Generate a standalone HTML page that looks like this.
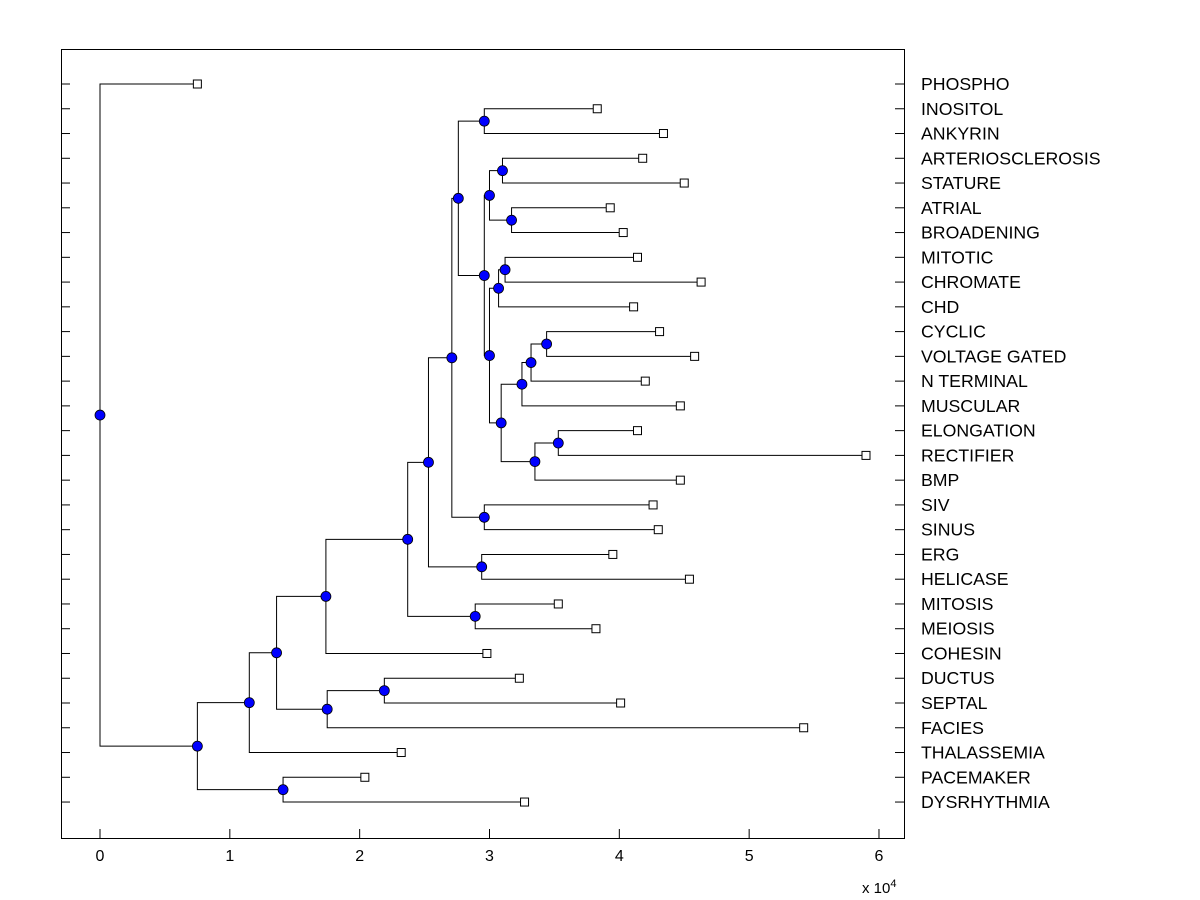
<!DOCTYPE html>
<html><head><meta charset="utf-8"><style>
body{margin:0;background:#fff;}
svg{display:block;font-family:"Liberation Sans",Arial,sans-serif;}
</style></head><body>
<svg id="chart" width="1200" height="900" xmlns="http://www.w3.org/2000/svg">
<rect x="0" y="0" width="1200" height="900" fill="#fff"/>
<g id="ticks"></g>
<g id="tree"></g>
<g id="labels"></g>
<rect x="61.5" y="49.5" width="843" height="789" fill="none" stroke="#000" stroke-width="1"/>
<text x="862" y="893" font-size="15">x 10<tspan dy="-6" font-size="11">4</tspan></text>
</svg>
<script>
const leafNames = ["PHOSPHO","INOSITOL","ANKYRIN","ARTERIOSCLEROSIS","STATURE","ATRIAL","BROADENING","MITOTIC","CHROMATE","CHD","CYCLIC","VOLTAGE GATED","N TERMINAL","MUSCULAR","ELONGATION","RECTIFIER","BMP","SIV","SINUS","ERG","HELICASE","MITOSIS","MEIOSIS","COHESIN","DUCTUS","SEPTAL","FACIES","THALASSEMIA","PACEMAKER","DYSRHYTHMIA"];
const leafValues = [0.75,3.83,4.34,4.18,4.50,3.93,4.03,4.14,4.63,4.11,4.31,4.58,4.20,4.47,4.14,5.90,4.47,4.26,4.30,3.95,4.54,3.53,3.82,2.98,3.23,4.01,5.42,2.32,2.04,3.27];
const mergeLeft  = [1,3,5,31,7,34,10,36,37,14,39,38,35,33,30,17,44,19,46,21,48,50,24,52,51,54,28,55,0];
const mergeRight = [2,4,6,32,8,9,11,12,13,15,16,40,41,42,43,18,45,20,47,22,49,23,25,26,53,27,29,56,57];
const mergeHeight= [2.96,3.10,3.17,3.00,3.12,3.07,3.44,3.32,3.25,3.53,3.35,3.09,3.00,2.96,2.76,2.96,2.71,2.94,2.53,2.89,2.37,1.74,2.19,1.75,1.36,1.15,1.41,0.75,0];
const xTicks = [0,1,2,3,4,5,6];

const NS="http://www.w3.org/2000/svg";
const xs = v => 100 + v*129.83;
const ys = i => 84 + i*24.76;
function mk(tag, attrs, parent){const e=document.createElementNS(NS,tag);for(const k in attrs)e.setAttribute(k,attrs[k]);parent.appendChild(e);return e;}
const ticks=document.getElementById('ticks'), tree=document.getElementById('tree'), labels=document.getElementById('labels');

xTicks.forEach(t=>{
  const l=mk('line',{x1:xs(t),x2:xs(t),y1:838,y2:829,stroke:'#000'},ticks);
  
  
  const tx=mk('text',{x:xs(t),y:861,'font-size':16,'text-anchor':'middle'},ticks);
  tx.textContent=t;
  
  
});
leafNames.forEach((n,i)=>{
  const y=ys(i);
  const a=mk('line',{x1:61,x2:70,y1:y,y2:y,stroke:'#000'},ticks);
  
  
  const b=mk('line',{x1:895,x2:904,y1:y,y2:y,stroke:'#000'},ticks);
  
  
  const t=mk('text',{x:921,y:y+6,'font-size':17.7},labels);
  t.textContent=n;
  
  
});

const nodeX=leafValues.slice(), nodeY=leafNames.map((_,i)=>ys(i));
const n0=leafNames.length;
mergeHeight.forEach((h,k)=>{
  const a=mergeLeft[k], b=mergeRight[k];
  nodeX[n0+k]=h; nodeY[n0+k]=(nodeY[a]+nodeY[b])/2;
});
mergeHeight.forEach((h,k)=>{
  const a=mergeLeft[k], b=mergeRight[k], x=xs(h);
  const p=mk('path',{d:`M${xs(nodeX[a])},${nodeY[a]}H${x}V${nodeY[b]}H${xs(nodeX[b])}`,fill:'none',stroke:'#000','stroke-width':1},tree);
  
  
});
leafValues.forEach((v,i)=>{
  const r=mk('rect',{x:xs(v)-4,y:ys(i)-4,width:8,height:8,fill:'#fff',stroke:'#000'},tree);
  
  
});
mergeHeight.forEach((h,k)=>{
  const c=mk('circle',{cx:xs(h),cy:nodeY[n0+k],r:5,fill:'#0000ff',stroke:'#000','stroke-width':0.8},tree);
  
  
});
</script>
</body></html>
